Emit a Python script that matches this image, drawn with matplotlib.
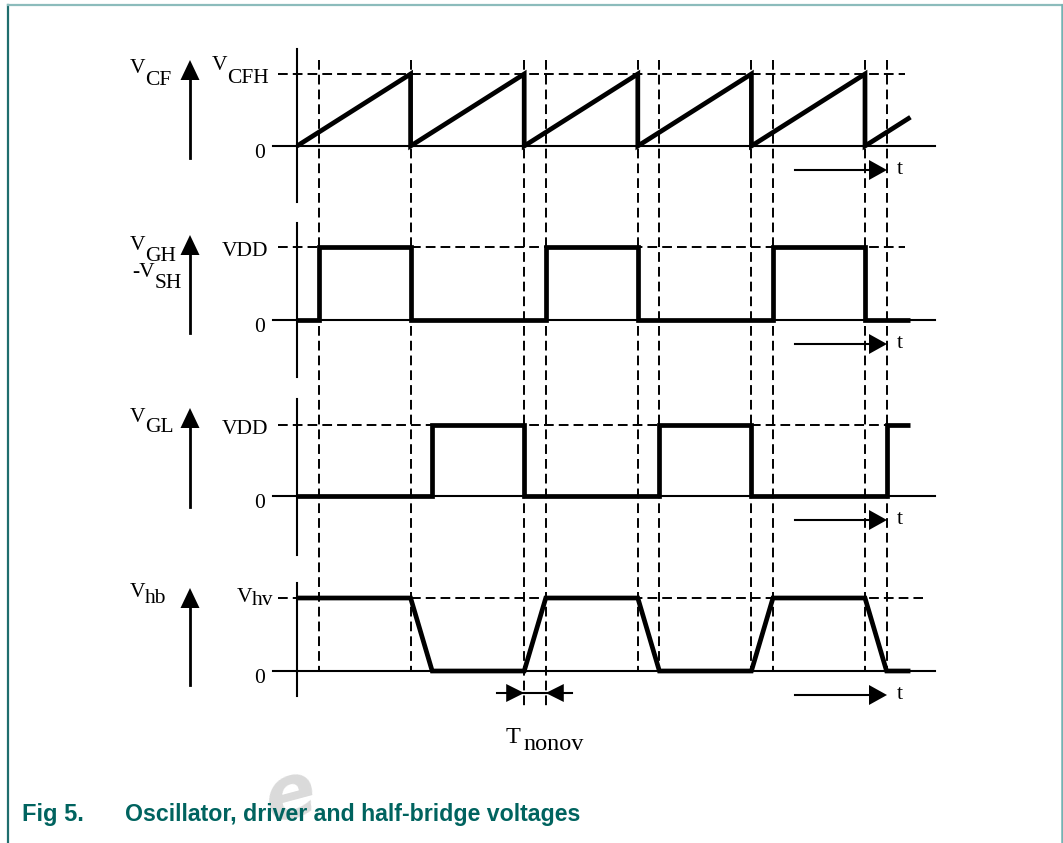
import matplotlib.pyplot as plt
from matplotlib.patches import Polygon

W, H, DPI = 1063, 843, 100
SERIF = 'Liberation Serif'

# time axis: one oscillator period = 1.0
X0, PERIOD_PX = 297, 113.6

# oscillator capacitor (sawtooth), normalised to V_CFH
t_cf = [0, 1, 1, 2, 2, 3, 3, 4, 4, 5, 5, 5.4]
v_cf = [0, 1, 0, 1, 0, 1, 0, 1, 0, 1, 0, 0.4]
# high side gate drive, normalised to VDD
t_gh = [0, 0.19, 0.19, 1, 1, 2.19, 2.19, 3, 3, 4.19, 4.19, 5, 5, 5.4]
v_gh = [0, 0, 1, 1, 0, 0, 1, 1, 0, 0, 1, 1, 0, 0]
# low side gate drive, normalised to VDD
t_gl = [0, 1.19, 1.19, 2, 2, 3.19, 3.19, 4, 4, 5.19, 5.19, 5.4]
v_gl = [0, 0, 1, 1, 0, 0, 1, 1, 0, 0, 1, 1]
# half-bridge node, normalised to V_hv
t_hb = [0, 1, 1.19, 2, 2.19, 3, 3.19, 4, 4.19, 5, 5.19, 5.4]
v_hb = [1, 1, 0, 0, 1, 1, 0, 0, 1, 1, 0, 0]
# switching instants marked with dashed lines
t_marks = [0.19, 1, 2, 2.19, 3, 3.19, 4, 4.19, 5, 5.19]
t_nonov = (2, 2.19)

waves = [(t_cf, v_cf), (t_gh, v_gh), (t_gl, v_gl), (t_hb, v_hb)]
base = [146, 320, 496, 671]
amp = [72, 73, 71, 73]
axis_span = [(49, 202), (223, 377), (399, 555), (583, 696)]
dash_end = [905, 905, 905, 923]


def px(x):
    return (x - X0) / PERIOD_PX


fig = plt.figure(figsize=(W / DPI, H / DPI), dpi=DPI)
ax = fig.add_axes([0, 0, 1, 1])
ax.set_xlim(px(0), px(W))
ax.set_ylim(H, 0)
ax.axis('off')

DASH = dict(color='black', lw=1.4, dashes=(5, 2.6))

for t in t_marks:
    y1 = 710 if t in t_nonov else 672
    ax.plot([t, t], [60, y1], **DASH)

for (t, v), b, a, span, de in zip(waves, base, amp, axis_span, dash_end):
    ax.plot([px(278), px(de)], [b - a, b - a], **DASH)
    ax.plot([px(273), px(935)], [b, b], color='black', lw=1.5)
    ax.plot([0, 0], span, color='black', lw=1.5)
    ax.plot(t, [b - a * vi for vi in v], color='black', lw=3.4,
            solid_joinstyle='miter', solid_capstyle='butt')


def arrow(x0, y0, x1, y1, hl, hw, lw=1.5):
    # straight arrow with a filled triangular head, given in pixels
    if x0 == x1:
        s = 1 if y1 > y0 else -1
        ax.plot([px(x0)] * 2, [y0, y1 - s * hl], color='black', lw=lw)
        head = [(px(x1), y1), (px(x1 - hw), y1 - s * hl), (px(x1 + hw), y1 - s * hl)]
    else:
        s = 1 if x1 > x0 else -1
        ax.plot([px(x0), px(x1 - s * hl)], [y0, y0], color='black', lw=lw)
        head = [(px(x1), y1), (px(x1 - s * hl), y1 - hw), (px(x1 - s * hl), y1 + hw)]
    ax.add_patch(Polygon(head, closed=True, color='black', lw=0))


# vertical quantity arrows
for tip, tail in [(60, 158), (235, 333), (408, 507), (588, 685)]:
    arrow(190, tail, 190, tip, 20, 9.5, lw=2)

# time arrows
for b in base:
    arrow(795, b + 24, 887, b + 24, 18, 10)
    ax.text(px(897), b + 28, 't', fontsize=16, family=SERIF, ha='left', va='baseline')

# non-overlap time arrows
yn = 693
ax.plot([px(497), px(572)], [yn, yn], color='black', lw=1.5)
for tip, s in zip(t_nonov, (1, -1)):
    ax.add_patch(Polygon([(tip, yn), (tip - s * px(X0 + 18), yn - 9),
                          (tip - s * px(X0 + 18), yn + 9)], closed=True, color='black', lw=0))
ax.text(px(520), 743, 'T', fontsize=17.5, family=SERIF, ha='right', va='baseline')
ax.text(px(523), 750, 'nonov', fontsize=17.5, family=SERIF, ha='left', va='baseline')


def vlabel(xj, yb, main, sub, yb_sub, size=15.5):
    ax.text(px(xj), yb, main, ha='right', va='baseline', fontsize=size, family=SERIF)
    ax.text(px(xj), yb_sub, sub, ha='left', va='baseline', fontsize=size, family=SERIF)


vlabel(145, 73, 'V', 'CF', 85)
vlabel(227, 70, 'V', 'CFH', 83)
vlabel(145, 250, 'V', 'GH', 261)
vlabel(155, 277, '-V', 'SH', 288)
vlabel(145, 422, 'V', 'GL', 432)
vlabel(145, 597, 'V', 'hb', 603)
vlabel(252, 602, 'V', 'hv', 605)

for b in base:
    ax.text(px(260), b + 12, '0', fontsize=15.5, family=SERIF, ha='center', va='baseline')
for b, a in zip(base[1:3], amp[1:3]):
    ax.text(px(268), b - a + 9, 'VDD', fontsize=15.5, family=SERIF, ha='right', va='baseline')

# page frame
ax.plot([px(8), px(8)], [5, H], color='#1f6e6e', lw=1.6)
ax.plot([px(8), px(W)], [5, 5], color='#8cbcbc', lw=1.6)
ax.plot([px(1062), px(1062)], [5, H], color='#74b2b2', lw=1.8)

# caption
teal = '#00635f'
ax.text(px(290), 797, 'e', fontsize=54, color='#dadada', family='DejaVu Sans',
        fontweight='bold', style='italic', rotation=15, ha='center', va='center', zorder=0)
ax.text(px(22), 821, 'Fig 5.', fontsize=17, fontweight='bold', color=teal,
        family='Liberation Sans', ha='left', va='baseline')
ax.text(px(125), 821, 'Oscillator, driver and half-bridge voltages', fontsize=16.7,
        fontweight='bold', color=teal, family='Liberation Sans', ha='left', va='baseline')

fig.savefig('out.png', dpi=DPI)
